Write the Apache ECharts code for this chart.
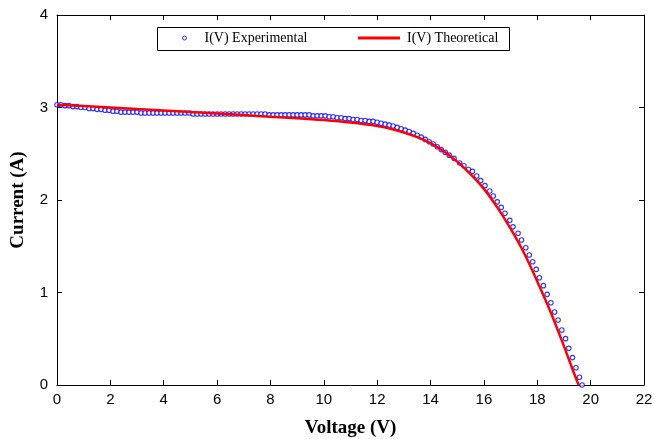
<!DOCTYPE html>
<html>
<head>
<meta charset="utf-8">
<script src="https://cdn.jsdelivr.net/npm/echarts@6/dist/echarts.min.js"></script>
<style>html,body{margin:0;padding:0;background:#fff;}#c{width:654px;height:439px;}</style>
</head>
<body>
<div id="c"></div>
<script>
// Experimental I(V) points
var expVoltage = [
 0.00,0.15,0.30,0.45,0.60,0.75,0.90,1.05,1.20,1.35,1.50,1.65,1.80,1.95,2.10,2.25,2.40,2.55,2.70,2.85,
 3.00,3.15,3.30,3.45,3.60,3.75,3.90,4.05,4.20,4.35,4.50,4.65,4.80,4.95,5.10,5.25,5.40,5.55,5.70,5.85,
 6.00,6.15,6.30,6.45,6.60,6.75,6.90,7.05,7.20,7.35,7.50,7.65,7.80,7.95,8.10,8.25,8.40,8.55,8.70,8.85,
 9.00,9.15,9.30,9.45,9.60,9.75,9.90,10.05,10.20,10.35,10.50,10.65,10.80,10.95,11.10,11.25,11.40,11.55,11.70,11.85,
 12.00,12.15,12.30,12.45,12.60,12.75,12.90,13.05,13.20,13.35,13.50,13.65,13.80,13.95,14.10,14.25,14.40,14.55,14.70,14.88,
 15.09,15.25,15.42,15.57,15.73,15.88,16.04,16.22,16.35,16.50,16.65,16.79,16.97,17.09,17.28,17.41,17.57,17.70,17.83,17.96,
 18.08,18.23,18.37,18.51,18.65,18.78,18.92,19.06,19.18,19.32,19.45,19.58,19.68
];
var expCurrent = [
 3.03,3.03,3.02,3.02,3.01,3.01,3.00,3.00,2.99,2.99,2.98,2.98,2.97,2.97,2.96,2.96,2.95,2.95,2.95,2.95,
 2.95,2.94,2.94,2.94,2.94,2.94,2.94,2.94,2.94,2.94,2.94,2.94,2.94,2.94,2.93,2.93,2.93,2.93,2.93,2.93,
 2.93,2.93,2.93,2.93,2.93,2.93,2.93,2.93,2.93,2.93,2.93,2.93,2.93,2.92,2.92,2.92,2.92,2.92,2.92,2.92,
 2.92,2.92,2.92,2.92,2.91,2.91,2.91,2.91,2.90,2.90,2.89,2.89,2.88,2.88,2.87,2.87,2.86,2.86,2.85,2.85,
 2.84,2.83,2.82,2.81,2.80,2.785,2.77,2.755,2.74,2.72,2.70,2.68,2.655,2.63,2.605,2.576,2.545,2.515,2.485,2.45,
 2.40,2.37,2.33,2.31,2.26,2.21,2.155,2.097,2.043,1.98,1.92,1.856,1.78,1.71,1.64,1.568,1.484,1.405,1.333,1.25,
 1.16,1.074,0.98,0.89,0.789,0.703,0.595,0.501,0.396,0.296,0.187,0.083,0.00
];
// Theoretical I(V) curve
var theoVoltage = [0,1,2,3,4,5,6,7,8,9,10,11,12,12.5,13,13.5,14,14.5,15,15.5,16,16.5,17,17.5,18,18.5,19,19.3,19.55];
var theoCurrent = [3.03,3.015,3.0,2.983,2.967,2.951,2.935,2.918,2.90,2.885,2.865,2.838,2.80,2.77,2.73,2.68,2.615,2.525,2.415,2.28,2.12,1.92,1.69,1.43,1.12,0.79,0.42,0.187,0];
var xTicks = {min:0, max:22, interval:2};
var yTicks = {min:0, max:4, interval:1};
var seriesNames = ['I(V) Experimental','I(V) Theoretical'];
var axisNames = {x:'Voltage (V)', y:'Current (A)'};

var expData = expVoltage.map(function(v,i){return [v, expCurrent[i]];});
var theoData = theoVoltage.map(function(v,i){return [v, theoCurrent[i]];});

var chart = echarts.init(document.getElementById('c'), null, {renderer:'canvas'});
var lineStyle = {color:'#000', width:1};
var tickStyle = {inside:true, length:5, lineStyle:{color:'#000', width:1}};
var labelFont = {fontFamily:'Liberation Sans, Arial, sans-serif', fontSize:15, color:'#000'};
var serif = 'Liberation Serif, Times New Roman, serif';
var legendText = {fontFamily:serif, fontSize:14, color:'#000'};
chart.setOption({
  animation:false,
  backgroundColor:'#fff',
  grid:{left:57, right:10, top:15, bottom:54, containLabel:false, outerBoundsMode:'none'},
  graphic:[{
    type:'rect', left:157, top:27, z:10,
    shape:{x:0, y:0, width:352, height:23},
    style:{fill:'#fff', stroke:'#000', lineWidth:1}
  }],
  legend:[{
    left:182, top:31, padding:0, z:20,
    itemWidth:4, itemHeight:4,
    textStyle:Object.assign({padding:[0,0,0,13]}, legendText),
    data:[{name:seriesNames[0], icon:'circle', itemStyle:{color:'#fff', borderColor:'#0000ff', borderWidth:1}}]
  },{
    left:358, top:31, padding:0, z:20,
    itemWidth:42, itemHeight:3,
    textStyle:Object.assign({padding:[0,0,0,2]}, legendText),
    data:[{name:seriesNames[1], icon:'rect', itemStyle:{color:'#ff0000'}}]
  }],
  xAxis:[{
    type:'value', position:'bottom', min:xTicks.min, max:xTicks.max, interval:xTicks.interval,
    name:axisNames.x, nameLocation:'middle', nameGap:34,
    nameTextStyle:{fontFamily:serif, fontWeight:'bold', fontSize:19, color:'#000'},
    axisLine:{show:true, lineStyle:lineStyle, onZero:false}, axisTick:tickStyle,
    axisLabel:Object.assign({margin:7}, labelFont), splitLine:{show:false}
  },{
    type:'value', position:'top', min:xTicks.min, max:xTicks.max, interval:xTicks.interval,
    axisLine:{show:true, lineStyle:lineStyle, onZero:false}, axisTick:tickStyle,
    axisLabel:{show:false}, splitLine:{show:false}
  }],
  yAxis:[{
    type:'value', position:'left', min:yTicks.min, max:yTicks.max, interval:yTicks.interval,
    name:axisNames.y, nameLocation:'middle', nameGap:29, nameRotate:90,
    nameTextStyle:{fontFamily:serif, fontWeight:'bold', fontSize:19, color:'#000'},
    axisLine:{show:true, lineStyle:lineStyle, onZero:false}, axisTick:tickStyle,
    axisLabel:Object.assign({margin:9}, labelFont), splitLine:{show:false}
  },{
    type:'value', position:'right', min:yTicks.min, max:yTicks.max, interval:yTicks.interval,
    axisLine:{show:true, lineStyle:lineStyle, onZero:false}, axisTick:tickStyle,
    axisLabel:{show:false}, splitLine:{show:false}
  }],
  series:[{
    name:seriesNames[0], type:'scatter', data:expData,
    symbol:'circle', symbolSize:4.5,
    itemStyle:{color:'#fff', borderColor:'#0000ff', borderWidth:1.1},
    z:3
  },{
    name:seriesNames[1], type:'line', data:theoData,
    smooth:0.3, showSymbol:false, symbol:'none',
    lineStyle:{color:'#ff0000', width:2.5},
    itemStyle:{color:'#ff0000'},
    z:4
  }]
});
</script>
</body>
</html>
